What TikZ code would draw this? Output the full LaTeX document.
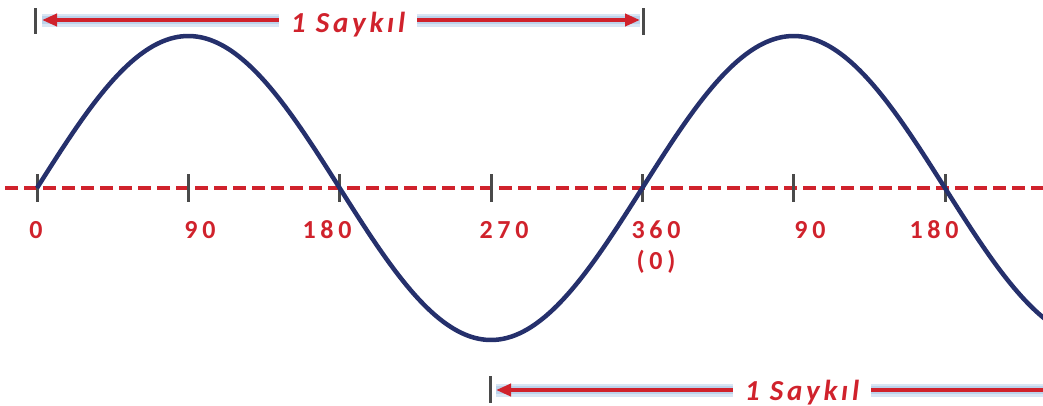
\documentclass[tikz,border=0pt]{standalone}
\usepackage{fontspec}
\setmainfont{Carlito}
\newfontfamily\lblfont[LetterSpace=18]{Carlito}
\newfontfamily\cycfont[LetterSpace=13]{Carlito}
\usetikzlibrary{arrows.meta}
\definecolor{axred}{HTML}{D0222C}
\definecolor{navy}{HTML}{25306C}
\definecolor{tickgray}{HTML}{4A4A4A}
\definecolor{glow}{HTML}{C9DCEF}
\definecolor{glowin}{HTML}{A9C6E6}
\tikzset{
  tickmark/.style={draw=tickgray, line width=3pt},
  deglabel/.style={text=axred, font=\lblfont\fontsize{26}{28}\selectfont\bfseries, inner sep=0pt, anchor=center},
  cyclabel/.style={text=axred, fill=white, font=\cycfont\fontsize{29}{31}\selectfont\bfseries\itshape, inner xsep=12pt, inner ysep=3pt, anchor=base},
  glowline/.style={draw=glow, line width=13pt, opacity=0.7},
  glowinner/.style={draw=glowin, line width=8pt, opacity=0.6},
  redarrow/.style={draw=axred, line width=4pt, {Triangle[length=15pt,width=12pt]}-{Triangle[length=15pt,width=12pt]}},
  wave/.style={draw=navy, line width=4.5pt},
}
\begin{document}
\begin{tikzpicture}[x=1pt,y=-1pt]
\useasboundingbox (0,0) rectangle (1043,405);
\clip (0,0) rectangle (1043,405);
% axis
\coordinate (axL) at (5,188);
\coordinate (axR) at (1043,188);
\draw[axred, line width=4pt, dash pattern=on 13pt off 6pt] (axL) -- (axR);
% ticks
\foreach \n/\x in {t0/37, t1/188.3, t2/339.7, t3/491, t4/642.3, t5/793.7, t6/945}{
  \coordinate (\n a) at (\x,174);
  \coordinate (\n b) at (\x,202);
  \draw[tickmark] (\n a) -- (\n b);
}
% sine wave
\draw[wave] plot[domain=37:1060, samples=300, smooth] (\x, {188 - 152*sin((\x-37)/605.3*360)});
% labels
\node[deglabel] (l0) at (36,230) {0};
\node[deglabel] (l1) at (200,230) {90};
\node[deglabel] (l2) at (327,230) {180};
\node[deglabel] (l3) at (504,230) {270};
\node[deglabel] (l4) at (656,230) {360};
\node[deglabel] (l4b) at (656,262) {(0)};
\node[deglabel] (l5) at (810,230) {90};
\node[deglabel] (l6) at (934,230) {180};
% top cycle arrow
\coordinate (ta) at (35,8);
\coordinate (tb) at (35,34);
\coordinate (tc) at (643,8);
\coordinate (td) at (643,35);
\coordinate (tl) at (42,20);
\coordinate (tr) at (640,20);
\draw[glowline] (tl) -- (tr);
\draw[glowinner] (tl) -- (tr);
\draw[redarrow] (tl) -- (tr);
\draw[tickmark] (ta) -- (tb);
\draw[tickmark] (tc) -- (td);
\node[cyclabel] (top) at (348,32) {1 Saykıl};
% bottom cycle arrow
\coordinate (ba) at (490,376);
\coordinate (bb) at (490,403);
\coordinate (bl) at (496,390);
\coordinate (br) at (1100,390);
\draw[glowline] (bl) -- (br);
\draw[glowinner] (bl) -- (br);
\draw[redarrow] (bl) -- (br);
\draw[tickmark] (ba) -- (bb);
\node[cyclabel] (bot) at (802,400) {1 Saykıl};
\end{tikzpicture}
\end{document}
